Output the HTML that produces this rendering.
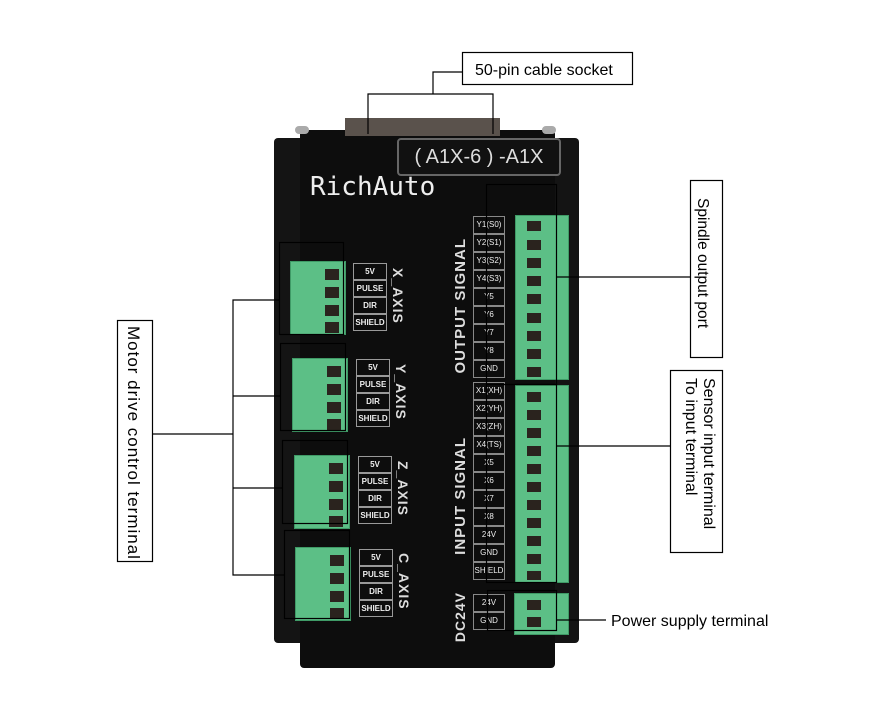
<!DOCTYPE html><html><head><style>
body{margin:0;width:870px;height:704px;background:#fff;position:relative;overflow:hidden;font-family:"Liberation Sans",sans-serif}
.a{position:absolute}
.g{position:absolute;background:#5cbf86;border:1px solid #3f9a66}
.p{position:absolute;width:14px;height:11px;background:#2a231e;left:34px}
.lb{position:absolute;border:1px solid #999;color:#eee;font-size:8px;font-weight:bold;text-align:center;width:32px;height:15px;line-height:15px}
.r{position:absolute;border:1px solid #000}
.vt{position:absolute;color:#ddd;font-weight:bold;writing-mode:vertical-rl;font-size:14px;letter-spacing:1px}
.sl{position:absolute;border:1px solid #888;color:#eee;font-size:8px;width:30px;height:16px;line-height:16px;text-align:center}
</style></head><body>
<div class="a" style="left:274px;top:138px;width:305px;height:505px;background:#141414;border-radius:4px"></div>
<div class="a" style="left:300px;top:130px;width:255px;height:538px;background:#0d0d0d;border-radius:4px"></div>
<div class="a" style="left:345px;top:118px;width:155px;height:18px;background:#5a524c"></div>
<div class="a" style="left:295px;top:126px;width:14px;height:8px;background:#aaa;border-radius:4px"></div>
<div class="a" style="left:542px;top:126px;width:14px;height:8px;background:#aaa;border-radius:4px"></div>
<div class="a" style="left:397px;top:138px;width:160px;height:34px;background:#111;border:2px solid #666;border-radius:4px;color:#ddd;font-size:20px;line-height:34px;text-align:center">( A1X-6 ) -A1X</div>
<div class="a" style="left:310px;top:172px;color:#eee;font-size:26px;font-family:'DejaVu Sans Mono','Liberation Mono',monospace">RichAuto</div>
<div class="g" style="left:290px;top:261px;width:54px;height:72px"><div class="p" style="top:7px"></div><div class="p" style="top:25px"></div><div class="p" style="top:43px"></div><div class="p" style="top:60px"></div></div>
<div class="g" style="left:292px;top:358px;width:54px;height:72px"><div class="p" style="top:7px"></div><div class="p" style="top:25px"></div><div class="p" style="top:43px"></div><div class="p" style="top:60px"></div></div>
<div class="g" style="left:294px;top:455px;width:54px;height:72px"><div class="p" style="top:7px"></div><div class="p" style="top:25px"></div><div class="p" style="top:43px"></div><div class="p" style="top:60px"></div></div>
<div class="g" style="left:295px;top:547px;width:54px;height:72px"><div class="p" style="top:7px"></div><div class="p" style="top:25px"></div><div class="p" style="top:43px"></div><div class="p" style="top:60px"></div></div>
<div class="a" style="left:353px;top:263px"><div class="lb" style="position:relative">5V</div><div class="lb" style="position:relative">PULSE</div><div class="lb" style="position:relative">DIR</div><div class="lb" style="position:relative">SHIELD</div></div>
<div class="a" style="left:356px;top:359px"><div class="lb" style="position:relative">5V</div><div class="lb" style="position:relative">PULSE</div><div class="lb" style="position:relative">DIR</div><div class="lb" style="position:relative">SHIELD</div></div>
<div class="a" style="left:358px;top:456px"><div class="lb" style="position:relative">5V</div><div class="lb" style="position:relative">PULSE</div><div class="lb" style="position:relative">DIR</div><div class="lb" style="position:relative">SHIELD</div></div>
<div class="a" style="left:359px;top:549px"><div class="lb" style="position:relative">5V</div><div class="lb" style="position:relative">PULSE</div><div class="lb" style="position:relative">DIR</div><div class="lb" style="position:relative">SHIELD</div></div>
<div class="vt" style="left:390px;top:268px">X_AXIS</div>
<div class="vt" style="left:393px;top:364px">Y_AXIS</div>
<div class="vt" style="left:395px;top:461px">Z_AXIS</div>
<div class="vt" style="left:396px;top:553px">C_AXIS</div>
<div class="vt" style="left:452px;top:238px;transform:rotate(180deg);font-size:15px">OUTPUT SIGNAL</div>
<div class="vt" style="left:452px;top:437px;transform:rotate(180deg);font-size:15px">INPUT SIGNAL</div>
<div class="vt" style="left:452px;top:592px;transform:rotate(180deg);font-size:14px">DC24V</div>
<div class="g" style="left:515px;top:215px;width:52px;height:163px"></div>
<div class="g" style="left:515px;top:385px;width:52px;height:196px"></div>
<div class="g" style="left:514px;top:593px;width:53px;height:40px"></div>
<div class="a" style="left:473px;top:216px">
<div class="sl" style="position:relative">Y1(S0)</div><div class="sl" style="position:relative">Y2(S1)</div><div class="sl" style="position:relative">Y3(S2)</div><div class="sl" style="position:relative">Y4(S3)</div><div class="sl" style="position:relative">Y5</div><div class="sl" style="position:relative">Y6</div><div class="sl" style="position:relative">Y7</div><div class="sl" style="position:relative">Y8</div><div class="sl" style="position:relative">GND</div>
<div class="sl" style="position:relative;margin-top:4px">X1(XH)</div><div class="sl" style="position:relative">X2(YH)</div><div class="sl" style="position:relative">X3(ZH)</div><div class="sl" style="position:relative">X4(TS)</div><div class="sl" style="position:relative">X5</div><div class="sl" style="position:relative">X6</div><div class="sl" style="position:relative">X7</div><div class="sl" style="position:relative">X8</div><div class="sl" style="position:relative">24V</div><div class="sl" style="position:relative">GND</div><div class="sl" style="position:relative">SHIELD</div>
<div class="sl" style="position:relative;margin-top:14px">24V</div><div class="sl" style="position:relative">GND</div></div>
<svg class="a" style="left:0;top:0" width="870" height="704">
<g fill="#2a231e">
<rect x="527" y="221" width="14" height="10"/><rect x="527" y="240" width="14" height="10"/><rect x="527" y="258" width="14" height="10"/><rect x="527" y="276" width="14" height="10"/><rect x="527" y="294" width="14" height="10"/><rect x="527" y="313" width="14" height="10"/><rect x="527" y="331" width="14" height="10"/><rect x="527" y="349" width="14" height="10"/><rect x="527" y="367" width="14" height="10"/>
<rect x="527" y="392" width="14" height="10"/><rect x="527" y="410" width="14" height="10"/><rect x="527" y="428" width="14" height="10"/><rect x="527" y="446" width="14" height="10"/><rect x="527" y="464" width="14" height="10"/><rect x="527" y="482" width="14" height="10"/><rect x="527" y="500" width="14" height="10"/><rect x="527" y="518" width="14" height="10"/><rect x="527" y="536" width="14" height="10"/><rect x="527" y="554" width="14" height="10"/><rect x="527" y="571" width="14" height="9"/>
<rect x="527" y="600" width="14" height="10"/><rect x="527" y="617" width="14" height="10"/></g>
<g fill="none" stroke="#000" stroke-width="1.2">
<rect x="462.5" y="52.5" width="170" height="32" fill="#fff"/>
<polyline points="462,72 433,72 433,94"/>
<polyline points="368,134 368,94 493,94 493,134"/>
<rect x="486.5" y="184.5" width="70" height="200"/>
<rect x="486.5" y="384.5" width="70" height="198"/>
<rect x="487.5" y="590.5" width="69" height="40"/>
<line x1="556" y1="277" x2="690" y2="277"/>
<line x1="556" y1="446" x2="670" y2="446"/>
<line x1="556" y1="620" x2="606" y2="620"/>
<rect x="690.5" y="180.5" width="32" height="177" fill="#fff"/>
<rect x="670.5" y="370.5" width="52" height="182" fill="#fff"/>
<rect x="117.5" y="320.5" width="35" height="241" fill="#fff"/>
<line x1="152" y1="434" x2="233" y2="434"/>
<polyline points="279,300 233,300 233,575 284,575"/>
<line x1="233" y1="396" x2="280" y2="396"/><line x1="233" y1="488" x2="282" y2="488"/>
<rect x="279.5" y="242.5" width="64" height="92"/>
<rect x="280.5" y="343.5" width="65" height="87"/>
<rect x="282.5" y="440.5" width="65" height="83"/>
<rect x="284.5" y="530.5" width="65" height="88"/>
</g>
<g font-family="Liberation Sans,sans-serif" font-size="16" fill="#000">
<text x="475" y="75">50-pin cable socket</text>
<text x="611" y="626">Power supply terminal</text>
<text transform="translate(698,198) rotate(90)" font-size="15.5">Spindle output port</text>
<text transform="translate(704,378) rotate(90)">Sensor input terminal</text>
<text transform="translate(686,378) rotate(90)">To input terminal</text>
<text transform="translate(128,326) rotate(90)" font-size="17" letter-spacing="1">Motor drive control terminal</text>
</g></svg>
</body></html>
